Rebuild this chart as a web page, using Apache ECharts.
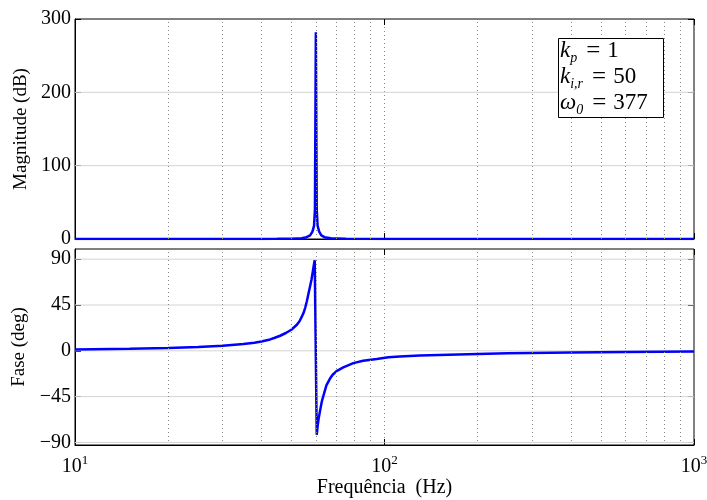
<!DOCTYPE html>
<html>
<head>
<meta charset="utf-8">
<script src="https://cdn.jsdelivr.net/npm/echarts@6/dist/echarts.min.js"></script>
<style>html,body{margin:0;padding:0;background:#fff}#chart{width:707px;height:500px}</style>
</head>
<body>
<div id="chart"></div>
<script>
// magnitude (dB) vs frequency (Hz)
const magFreq = [10, 20, 30, 40, 45, 50, 54, 56, 57.5, 58.5, 59.2, 59.6, 60, 60.4, 60.8, 61.5, 62.5, 64, 67, 75, 100, 200, 500, 1000];
const magDb = [0, 0, 0, 0.1, 0.2, 0.5, 1, 2.5, 5, 10, 18, 40, 282, 40, 18, 10, 5, 2.5, 1, 0.3, 0.1, 0, 0, 0];

// fase (deg) vs frequency (Hz)
const phaseFreq = [10, 15, 20, 25, 30, 35, 38, 40, 42.7, 44, 46, 48, 50, 52.1, 53.2, 54.1, 54.8, 55.4, 56.1, 56.7, 57.4, 58.1, 58.6, 59.1, 59.5, 60,
  60.4, 60.8, 61.3, 62, 62.7, 63.5, 64.9, 66.6, 68, 70, 73.6, 79.3, 85.3, 94.4, 103, 112, 130, 150, 200, 250, 400, 600, 1000];
const phaseDeg = [1.2, 2, 2.8, 3.8, 5, 6.6, 8, 9.2, 11.2, 12.6, 14.8, 17.5, 20.7, 25.6, 29.3, 33.8, 37.5, 42, 48.5, 55, 62.5, 70, 77, 84, 89, 90,
  -82.5, -74, -66, -58, -50, -44, -34, -27.5, -23.5, -20, -16.2, -12.1, -9.8, -8, -6.4, -5.6, -4.6, -4, -3.1, -2.5, -1.6, -1.1, -0.6];

// tick values
const magTicks = [0, 100, 200, 300];
const phaseTicks = [-90, -45, 0, 45, 90];
const minorFreq = [20, 30, 40, 50, 60, 70, 80, 90, 200, 300, 400, 500, 600, 700, 800, 900];

const serif = 'Liberation Serif';
const gridColor = '#8a8a8a';

var myChart = echarts.init(document.getElementById('chart'));

function xAx (grid, pos, labels) {
  return {
    type: 'log', logBase: 10, gridIndex: grid, position: pos, min: 10, max: 1000,
    axisLine: { show: pos === 'bottom', onZero: false, lineStyle: { color: '#000', width: 1 } },
    axisTick: { show: true, inside: true, length: 6, lineStyle: { color: '#000' } },
    splitLine: { show: pos === 'bottom', lineStyle: { color: gridColor, type: [1, 3] } },
    axisLabel: {
      show: labels,
      margin: 9,
      formatter: function (v) {
        return '{b|10}{s|' + Math.round(Math.log10(v)) + '}'
      },
      rich: {
        b: { fontFamily: serif, fontSize: 20, color: '#000' },
        s: { fontFamily: serif, fontSize: 13, color: '#000', padding: [0, 0, 12, 0] }
      }
    },
    name: labels ? 'Frequência  (Hz)' : '',
    nameLocation: 'middle',
    nameGap: 33,
    nameTextStyle: { fontFamily: serif, fontSize: 20, color: '#000' }
  }
}

function yAx (grid, pos, min, max, ticks, name, gap) {
  return {
    type: 'value', gridIndex: grid, position: pos, min: min, max: max,
    axisLine: { show: pos === 'left', onZero: false, lineStyle: { color: '#000', width: 1 } },
    axisTick: { show: true, inside: true, length: 6, customValues: ticks, lineStyle: { color: '#000' } },
    splitLine: { show: false },
    axisLabel: {
      show: pos === 'left',
      customValues: ticks,
      margin: 4,
      fontFamily: serif, fontSize: 20, color: '#000',
      formatter: function (v) { return String(v).replace('-', '\u2212') }
    },
    name: pos === 'left' ? name : '',
    nameLocation: 'middle',
    nameGap: gap,
    nameTextStyle: { fontFamily: serif, fontSize: 19, color: '#000' }
  }
}

// dotted minor verticals
function vGrid (x, y) {
  return {
    type: 'line', xAxisIndex: x, yAxisIndex: y, data: [], z: 1, silent: true,
    markLine: {
      silent: true, symbol: 'none', label: { show: false }, animation: false,
      lineStyle: { color: gridColor, type: [1, 3], width: 1 },
      data: minorFreq.map(function (f) { return { xAxis: f } })
    }
  }
}

// horizontals at the y ticks (dashes don't render here, so thin light solid)
function hGrid (x, y, v) {
  return {
    type: 'line', xAxisIndex: x, yAxisIndex: y, z: 1, silent: true, showSymbol: false,
    lineStyle: { color: '#d4d4d4', type: 'solid', width: 1 },
    data: [[10, v], [1000, v]]
  }
}

let series = [vGrid(0, 0), vGrid(1, 1)]
;[100, 200].forEach(function (v) { series.push(hGrid(0, 0, v)) })
phaseTicks.forEach(function (v) { series.push(hGrid(1, 1, v)) })
series.push({
  type: 'line', xAxisIndex: 0, yAxisIndex: 0, showSymbol: false, z: 3,
  lineStyle: { color: '#0000ff', width: 2.5 },
  data: magFreq.map(function (f, i) { return [f, magDb[i]] })
})
series.push({
  type: 'line', xAxisIndex: 1, yAxisIndex: 1, showSymbol: false, z: 3,
  lineStyle: { color: '#0000ff', width: 2.5 },
  data: phaseFreq.map(function (f, i) { return [f, phaseDeg[i]] })
})

let option = {
  animation: false,
  backgroundColor: '#fff',
  grid: [
    { left: 75, right: 13, top: 19, height: 220, show: true, borderColor: '#000', borderWidth: 1, outerBoundsMode: 'none', containLabel: false },
    { left: 75, right: 13, top: 249, height: 196, show: true, borderColor: '#000', borderWidth: 1, outerBoundsMode: 'none', containLabel: false }
  ],
  xAxis: [
    xAx(0, 'bottom', false),
    xAx(1, 'bottom', true),
    xAx(0, 'top', false),
    xAx(1, 'top', false)
  ],
  yAxis: [
    yAx(0, 'left', 0, 300, magTicks, 'Magnitude (dB)', 34),
    yAx(1, 'left', -92.5, 100, phaseTicks, 'Fase (deg)', 34),
    yAx(0, 'right', 0, 300, magTicks, '', 0),
    yAx(1, 'right', -92.5, 100, phaseTicks, '', 0)
  ],
  series: series,
  graphic: [
    {
      type: 'rect', z: 10,
      shape: { x: 558.5, y: 38.5, width: 105, height: 79 },
      style: { fill: '#fff', stroke: '#000', lineWidth: 1 }
    },
    {
      type: 'text', z: 11, x: 560, y: 38,
      style: {
        text: '{i|k}{u|p}{e|=}{n|1}\n{i|k}{u|i,r}{e|=}{n|50}\n{i|\u03c9}{u|0}{e|=}{n|377}',
        rich: {
          i: { fontFamily: serif, fontStyle: 'italic', fontSize: 23, lineHeight: 26, fill: '#000' },
          u: { fontFamily: serif, fontStyle: 'italic', fontSize: 14, lineHeight: 26, fill: '#000', padding: [14, 1, 0, 0] },
          e: { fontFamily: serif, fontSize: 25, lineHeight: 26, fill: '#000', padding: [0, 7, 0, 8] },
          n: { fontFamily: serif, fontSize: 23, lineHeight: 26, fill: '#000' }
        }
      }
    }
  ]
};

myChart.setOption(option)
</script>
</body>
</html>
